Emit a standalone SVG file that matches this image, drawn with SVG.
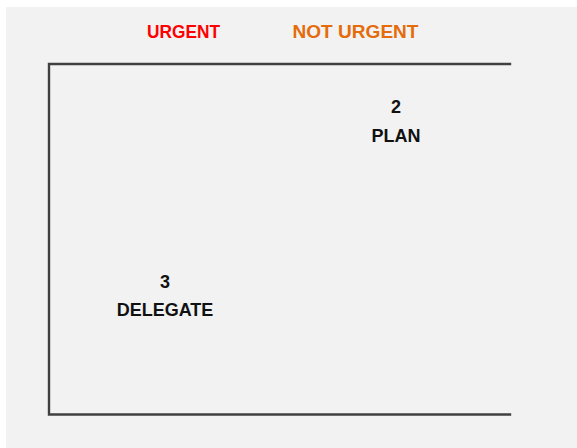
<svg xmlns="http://www.w3.org/2000/svg" width="577" height="448" viewBox="0 0 577 448">
  <style>
    .lbl { font-family: "Liberation Sans", Arial, sans-serif; font-weight: bold; font-size: 18px; text-anchor: middle; }
    .dark { fill: #111111; }
    .frame { stroke: #404040; stroke-width: 2.4; fill: none; stroke-linecap: square; }
  </style>
  <rect x="0" y="0" width="577" height="448" fill="#ffffff"/>
  <rect x="6" y="7" width="571" height="441" fill="#f2f2f2"/>
  <g id="frame">
    <polyline class="frame" points="510,64 49,64 49,414.5 510,414.5"/>
  </g>
  <g id="urgent">
    <text class="lbl" x="183.5" y="38" fill="#ff0000" textLength="73" lengthAdjust="spacingAndGlyphs">URGENT</text>
  </g>
  <g id="not-urgent">
    <text class="lbl" x="355.5" y="38" fill="#e46c0a" textLength="126" lengthAdjust="spacingAndGlyphs">NOT URGENT</text>
  </g>
  <g id="plan">
    <text class="lbl dark" x="396" y="113">2</text>
    <text class="lbl dark" x="396" y="141.5">PLAN</text>
  </g>
  <g id="delegate">
    <text class="lbl dark" x="165" y="287.5">3</text>
    <text class="lbl dark" x="165" y="315.5">DELEGATE</text>
  </g>
</svg>
